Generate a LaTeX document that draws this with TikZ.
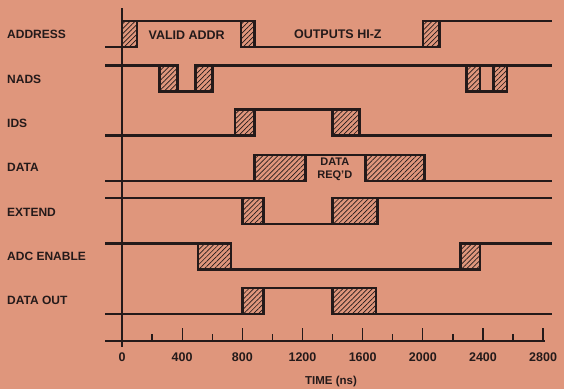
\documentclass[tikz,border=0pt]{standalone}
\usepackage{fontspec}
\setmainfont{Liberation Sans}
\usepackage{tikz}
\usetikzlibrary{patterns.meta, positioning}
\definecolor{paper}{RGB}{223,150,124}
\definecolor{ink}{RGB}{36,26,26}
\tikzstyle{signal} = [draw=ink, line width=2.6pt, line join=miter]
\tikzstyle{trans} = [draw=ink, line width=2.6pt, pattern={Lines[angle=45, distance=3.5pt, line width=0.7pt]}, pattern color=ink]
\tikzstyle{axis} = [draw=ink, line width=1.8pt]
\tikzstyle{tick} = [draw=ink, line width=1.3pt]
\tikzstyle{siglabel} = [anchor=west, inner sep=0pt, text=ink, font=\bfseries\fontsize{12}{14}\selectfont]
\tikzstyle{note} = [inner sep=0pt, text=ink, font=\bfseries\fontsize{12.5}{15}\selectfont]
\tikzstyle{ticklabel} = [inner sep=0pt, text=ink, font=\bfseries\fontsize{12.5}{14}\selectfont]
% hatched transition box: from time #1 to #2, row centre #3
\newcommand{\trbox}[3]{\draw[trans] (#1,#3-13) rectangle (#2,#3+13);}

\begin{document}
\begin{tikzpicture}[x=1pt, y=-1pt]
% Paper
\fill[paper] (0,0) rectangle (564,389);
\useasboundingbox (0,0) rectangle (564,389);

% Signal names
\node[siglabel] (address) at (7,34.5) {ADDRESS};
\node[siglabel] (nads) at (7,79) {NADS};
\node[siglabel] (ids) at (7,123.5) {IDS};
\node[siglabel] (data) at (7,167.5) {DATA};
\node[siglabel] (extend) at (7,212) {EXTEND};
\node[siglabel] (adcenable) at (7,256.5) {ADC ENABLE};
\node[siglabel] (dataout) at (7,300.5) {DATA OUT};

% Axes
\draw[axis] (122,8) -- (122,347);
\draw[axis] (105,341) -- (545,341);

% Waveforms, x in ns
\begin{scope}[xshift=122pt, x=0.1504pt]
% ADDRESS
\draw[signal] (-113,47) -- (0,47) (100,21) -- (790,21) (880,47) -- (2000,47) (2110,21) -- (2859,21);
\trbox{0}{100}{34}
\trbox{790}{880}{34}
\trbox{2000}{2110}{34}
\node[note] (validaddr) at (430,35) {VALID ADDR};
\node[note] (hiz) at (1435,34) {OUTPUTS HI-Z};

% NADS
\draw[signal] (-113,65.5) -- (250,65.5) (600,65.5) -- (2859,65.5) (370,91.5) -- (490,91.5) (2380,91.5) -- (2470,91.5);
\trbox{250}{370}{78.5}
\trbox{490}{600}{78.5}
\trbox{2290}{2380}{78.5}
\trbox{2470}{2560}{78.5}

% IDS
\draw[signal] (-113,135.5) -- (750,135.5) (880,109.5) -- (1400,109.5) (1580,135.5) -- (2859,135.5);
\trbox{750}{880}{122.5}
\trbox{1400}{1580}{122.5}

% DATA
\draw[signal] (-113,181) -- (880,181) (1220,155) -- (1620,155) (2010,181) -- (2859,181);
\trbox{880}{1220}{168}
\trbox{1620}{2010}{168}
\node[note, align=center, font=\bfseries\fontsize{11}{12.5}\selectfont] (datareqd) at (1415,169.5) {DATA\\REQ'D};

% EXTEND
\draw[signal] (-113,198) -- (800,198) (940,224) -- (1400,224) (1700,198) -- (2859,198);
\trbox{800}{940}{211}
\trbox{1400}{1700}{211}

% ADC ENABLE
\draw[signal] (-113,243.5) -- (505,243.5) (725,269.5) -- (2250,269.5) (2380,243.5) -- (2859,243.5);
\trbox{505}{725}{256.5}
\trbox{2250}{2380}{256.5}

% DATA OUT
\draw[signal] (-113,314) -- (800,314) (940,288) -- (1400,288) (1690,314) -- (2859,314);
\trbox{800}{940}{301}
\trbox{1400}{1690}{301}

% Time scale
\foreach \t in {400,800,...,2800}
  \draw[tick] (\t,341) -- (\t,328);
\foreach \t in {200,600,...,2600}
  \draw[tick] (\t,341) -- (\t,334);
\foreach \t in {0,400,...,2800}
  \node[ticklabel] (tl\t) at (\t,357) {\t};
\end{scope}

\node[ticklabel, font=\bfseries\fontsize{11.5}{14}\selectfont] (timelabel) at (331,382) {TIME (ns)};
\end{tikzpicture}
\end{document}
